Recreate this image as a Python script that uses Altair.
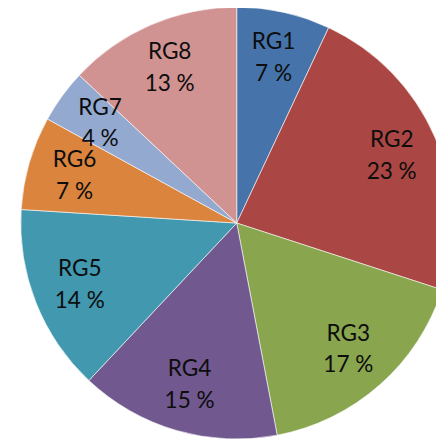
import altair as alt
import pandas as pd

categories = ["RG1", "RG2", "RG3", "RG4", "RG5", "RG6", "RG7", "RG8"]
values = [7, 23, 17, 15, 14, 7, 4, 13]
colors = ["#4674AA", "#AA4643", "#89A54E", "#71588F", "#4198AF", "#DB843D", "#93A9CF", "#D19392"]

df = pd.DataFrame({"cat": categories, "value": values, "order": list(range(len(categories)))})

CX, CY = 233, 215

base = alt.Chart(df).transform_calculate(
    label="datum.cat + '\\n' + datum.value + ' %'"
).encode(
    theta=alt.Theta("value:Q", stack=True),
    order=alt.Order("order:Q"),
)

arcs = base.mark_arc(outerRadius=220, stroke="#ffffff", strokeWidth=0.6).encode(
    x=alt.value(CX),
    y=alt.value(CY),
    color=alt.Color("cat:N", scale=alt.Scale(domain=categories, range=colors), legend=None),
)

labels = base.mark_text(
    radius=172, font="Lato", fontSize=23, lineBreak="\n", lineHeight=32,
    align="center", baseline="middle", dy=-16, color="#0d0d0d"
).encode(
    x=alt.value(CX),
    y=alt.value(CY),
    text="label:N",
)

chart = alt.layer(arcs, labels).properties(
    width=436, height=438, autosize=alt.AutoSizeParams(type="none"), padding=0
).configure_view(stroke=None)

chart.save("out.html", embed_options={"renderer": "svg", "actions": False})
